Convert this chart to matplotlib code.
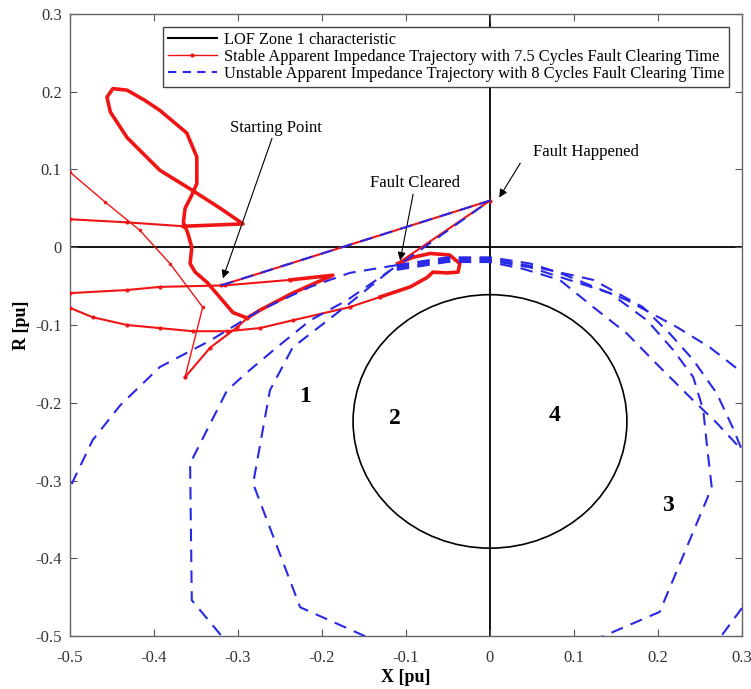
import matplotlib
matplotlib.use('Agg')
import matplotlib.pyplot as plt
from matplotlib.patches import Circle
from matplotlib.ticker import FuncFormatter, MultipleLocator
from matplotlib.lines import Line2D

plt.rcParams['font.family'] = ['Liberation Serif', 'DejaVu Serif']

# LOF zone 1 circle (X, R) and radius
zone_center = (0.0, -0.224)
zone_radius = 0.163

# stable trajectory (7.5 cycles) in pieces
red_fault_x = [-0.320, 0.0, -0.110]
red_fault_y = [-0.049, 0.060, -0.021]

red_bump_x = [-0.110, -0.092, -0.071, -0.048, -0.036, -0.038, -0.051, -0.068, -0.075, -0.095, -0.131]
red_bump_y = [-0.021, -0.013, -0.008, -0.010, -0.021, -0.032, -0.033, -0.032, -0.039, -0.051, -0.064]

red_low_x = [-0.131, -0.167, -0.235, -0.274, -0.313, -0.354, -0.393, -0.432, -0.473, -0.500]
red_low_y = [-0.064, -0.077, -0.094, -0.104, -0.108, -0.108, -0.104, -0.100, -0.090, -0.078]

red_mid_x = [-0.500, -0.432, -0.393, -0.315, -0.238]
red_mid_y = [-0.059, -0.055, -0.051, -0.049, -0.042]

red_wedge_x = [-0.238, -0.187, -0.235, -0.274, -0.289]
red_wedge_y = [-0.042, -0.036, -0.059, -0.081, -0.091]

red_vtip_x = [-0.289, -0.301, -0.333, -0.363]
red_vtip_y = [-0.091, -0.103, -0.129, -0.167]

red_thin_x = [-0.500, -0.458, -0.417, -0.381, -0.342, -0.363]
red_thin_y = [0.0965, 0.058, 0.022, -0.021, -0.077, -0.167]

red_top_x = [-0.500, -0.432, -0.365]
red_top_y = [0.036, 0.032, 0.027]

red_loop_x = [-0.365, -0.294, -0.321, -0.354, -0.393, -0.432, -0.452, -0.456, -0.449, -0.432,
              -0.411, -0.393, -0.361, -0.349, -0.349, -0.355, -0.363, -0.365, -0.360, -0.355,
              -0.357, -0.351, -0.337, -0.306, -0.289]
red_loop_y = [0.027, 0.030, 0.050, 0.073, 0.099, 0.141, 0.174, 0.193, 0.204, 0.202,
              0.189, 0.176, 0.147, 0.116, 0.082, 0.067, 0.050, 0.032, 0.019, 0.000,
              -0.021, -0.032, -0.045, -0.084, -0.091]

# unstable trajectory (8 cycles)
blue_fault_x = [-0.320, 0.0, -0.107]
blue_fault_y = [-0.049, 0.060, -0.022]

blue_r1_x = [-0.111, -0.051, 0.0, 0.048, 0.083, 0.163, 0.223, 0.262, 0.300]
blue_r1_y = [-0.023, -0.013, -0.013, -0.021, -0.033, -0.068, -0.103, -0.129, -0.161]

blue_r2_x = [-0.111, -0.051, 0.0, 0.048, 0.123, 0.182, 0.214, 0.242, 0.270, 0.289, 0.300]
blue_r2_y = [-0.025, -0.015, -0.015, -0.024, -0.042, -0.077, -0.111, -0.145, -0.188, -0.232, -0.261]

blue_r3_x = [-0.111, -0.051, 0.0, 0.048, 0.143, 0.187, 0.218, 0.242, 0.254, 0.258, 0.264, 0.202, 0.131]
blue_r3_y = [-0.027, -0.017, -0.017, -0.026, -0.059, -0.094, -0.132, -0.167, -0.210, -0.252, -0.309, -0.469, -0.502]

blue_r4_x = [-0.111, -0.051, 0.0, 0.040, 0.083, 0.123, 0.163, 0.202, 0.242, 0.270, 0.300]
blue_r4_y = [-0.029, -0.019, -0.019, -0.028, -0.042, -0.077, -0.111, -0.154, -0.197, -0.226, -0.261]

blue_r5_x = [0.300, 0.274]
blue_r5_y = [-0.464, -0.502]

blue_l1_x = [-0.111, -0.167, -0.214, -0.274, -0.333, -0.393, -0.440, -0.473, -0.500]
blue_l1_y = [-0.023, -0.033, -0.051, -0.081, -0.120, -0.154, -0.203, -0.248, -0.309]

blue_l2_x = [-0.115, -0.170, -0.214, -0.254, -0.286, -0.313, -0.357, -0.355, -0.318]
blue_l2_y = [-0.027, -0.068, -0.094, -0.129, -0.158, -0.184, -0.278, -0.454, -0.502]

blue_l3_x = [-0.119, -0.167, -0.235, -0.262, -0.282, -0.226, -0.143]
blue_l3_y = [-0.030, -0.072, -0.129, -0.184, -0.304, -0.463, -0.503]

zone_numbers = ['1', '2', '4', '3']
zone_num_x = [-0.220, -0.113, 0.077, 0.212]
zone_num_y = [-0.192, -0.220, -0.217, -0.332]

red = '#f01414'
blue = '#2828e6'

fig = plt.figure(figsize=(7.51, 6.89), dpi=100)
ax = fig.add_axes([0.0932, 0.0769, 0.8948, 0.9028])

ax.axhline(0, color='k', lw=1.3, zorder=1)
ax.axvline(0, color='k', lw=1.3, zorder=1)

ax.add_patch(Circle(zone_center, zone_radius, fill=False, color='k', lw=1.2, zorder=2))

thin = dict(color=red, lw=1.0, marker='.', markersize=3, zorder=3)
mid = dict(color=red, lw=1.5, marker='.', markersize=4, zorder=3)
thick = dict(color=red, lw=2.6, zorder=3)

ax.plot(red_fault_x, red_fault_y, **mid)
ax.plot(red_bump_x, red_bump_y, **thick)
ax.plot(red_low_x, red_low_y, **mid)
ax.plot(red_mid_x, red_mid_y, **mid)
ax.plot(red_wedge_x, red_wedge_y, **thick)
ax.plot(red_vtip_x, red_vtip_y, **mid)
ax.plot(red_thin_x, red_thin_y, **thin)
ax.plot(red_top_x, red_top_y, **mid)
ax.plot(red_loop_x, red_loop_y, **thick)

dash = dict(color=blue, lw=1.5, ls=(0, (6, 4)), zorder=4)
for bx, by in [(blue_fault_x, blue_fault_y), (blue_r1_x, blue_r1_y), (blue_r2_x, blue_r2_y),
               (blue_r3_x, blue_r3_y), (blue_r4_x, blue_r4_y), (blue_r5_x, blue_r5_y),
               (blue_l1_x, blue_l1_y), (blue_l2_x, blue_l2_y), (blue_l3_x, blue_l3_y)]:
    ax.plot(bx, by, **dash)

for t, x, y in zip(zone_numbers, zone_num_x, zone_num_y):
    ax.text(x, y, t, fontsize=17, fontweight='bold', ha='center', va='center')

arrow = dict(arrowstyle='-|>', color='k', lw=0.8, mutation_scale=12, shrinkA=0, shrinkB=0)
ax.annotate('Starting Point', xy=(-0.318, -0.040), xytext=(-0.255, 0.154),
            fontsize=12, ha='center', va='center', arrowprops=arrow)
ax.annotate('Fault Cleared', xy=(-0.107, -0.017), xytext=(-0.089, 0.082),
            fontsize=12, ha='center', va='center', arrowprops=arrow)
ax.annotate('', xy=(0.011, 0.064), xytext=(0.036, 0.108), arrowprops=arrow)
ax.text(0.114, 0.122, 'Fault Happened', fontsize=12, ha='center', va='center')

ax.set_xlim(-0.5, 0.3)
ax.set_ylim(-0.5, 0.3)
ax.xaxis.set_major_locator(MultipleLocator(0.1))
ax.yaxis.set_major_locator(MultipleLocator(0.1))
fmt = FuncFormatter(lambda v, p: '%g' % round(v, 2))
ax.xaxis.set_major_formatter(fmt)
ax.yaxis.set_major_formatter(fmt)
ax.tick_params(direction='in', top=True, right=True, labelsize=12, length=5,
               color='#555555', labelcolor='#333333')
ax.tick_params(axis='x', pad=10)
ax.tick_params(axis='y', pad=6)
for s in ax.spines.values():
    s.set_color('#666666')
    s.set_linewidth(1.0)

ax.set_xlabel('X [pu]', fontsize=13, fontweight='bold', labelpad=2)
ax.set_ylabel('R [pu]', fontsize=13, fontweight='bold', labelpad=4)

handles = [Line2D([], [], color='k', lw=1.5),
           Line2D([], [], color=red, lw=1.0, marker='.', markersize=4),
           Line2D([], [], color=blue, lw=1.5, ls=(0, (4, 3)))]
labels = ['LOF Zone 1 characteristic',
          'Stable Apparent Impedance Trajectory with 7.5 Cycles Fault Clearing Time',
          'Unstable Apparent Impedance Trajectory with 8 Cycles Fault Clearing Time']
leg = ax.legend(handles, labels, loc='upper right', fontsize=11.8, handlelength=3.0,
                labelspacing=0.05, borderpad=0.3, handletextpad=0.4,
                borderaxespad=0.8, fancybox=False, framealpha=1, edgecolor='#444444')
leg.get_frame().set_linewidth(1.0)

fig.savefig('out.png', dpi=100)
